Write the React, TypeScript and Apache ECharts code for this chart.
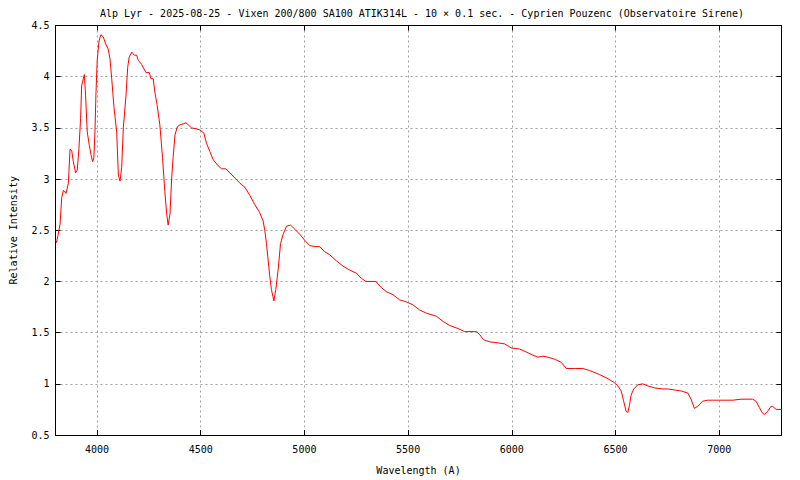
import React, { useEffect, useRef } from "react";
import * as echarts from "echarts";

const titleText =
  "Alp Lyr - 2025-08-25 - Vixen 200/800 SA100 ATIK314L - 10 × 0.1 sec. - Cyprien Pouzenc (Observatoire Sirene)";
const xName = "Wavelength (A)";
const yName = "Relative Intensity";

const xTicks = [4000, 4500, 5000, 5500, 6000, 6500, 7000];

const wavelength = [
  3800, 3805, 3812, 3822, 3830, 3838, 3851, 3862, 3870, 3878, 3886, 3897, 3905, 3913, 3921, 3926,
  3934, 3939, 3945, 3953, 3963, 3971, 3979, 3985, 3990, 3995, 4001, 4010, 4019, 4030, 4042, 4054,
  4063, 4071, 4082, 4095, 4103, 4111, 4119, 4127, 4140, 4148, 4155, 4168, 4180, 4191, 4199, 4215,
  4236, 4252, 4260, 4271, 4279, 4290, 4303, 4316, 4327, 4336, 4343, 4352, 4360, 4367, 4376, 4387,
  4400, 4416, 4429, 4440, 4456, 4480, 4496, 4515, 4528, 4544, 4560, 4584, 4601, 4621, 4641, 4665,
  4689, 4713, 4737, 4761, 4785, 4801, 4809, 4817, 4825, 4833, 4841, 4853, 4862, 4873, 4885, 4897,
  4914, 4933, 4954, 4978, 5002, 5026, 5050, 5074, 5098, 5122, 5155, 5186, 5219, 5251, 5275, 5296,
  5344, 5371, 5395, 5427, 5459, 5492, 5524, 5556, 5588, 5636, 5668, 5700, 5740, 5773, 5829, 5845,
  5864, 5893, 5933, 5965, 5998, 6037, 6070, 6101, 6126, 6150, 6174, 6206, 6238, 6262, 6302, 6342,
  6375, 6423, 6463, 6495, 6511, 6527, 6538, 6551, 6559, 6567, 6575, 6588, 6607, 6631, 6655, 6688,
  6728, 6752, 6784, 6816, 6848, 6864, 6880, 6896, 6920, 6944, 6968, 7000, 7033, 7065, 7105, 7161,
  7177, 7193, 7206, 7217, 7233, 7249, 7257, 7274, 7300,
];

const intensity = [
  2.4, 2.38, 2.45, 2.56, 2.82, 2.89, 2.86, 2.96, 3.29, 3.28, 3.17, 3.06, 3.09, 3.3, 3.59, 3.91,
  3.98, 4.02, 3.82, 3.46, 3.33, 3.24, 3.17, 3.21, 3.45, 3.83, 4.16, 4.35, 4.41, 4.39, 4.32, 4.27,
  4.17, 3.98, 3.7, 3.46, 3.04, 2.98, 3.11, 3.5, 3.82, 4.09, 4.19, 4.24, 4.21, 4.21, 4.16, 4.12,
  4.04, 4.04, 3.98, 3.98, 3.85, 3.72, 3.53, 3.21, 2.88, 2.66, 2.55, 2.66, 3.01, 3.21, 3.43, 3.51,
  3.53, 3.54, 3.55, 3.53, 3.5, 3.49, 3.48, 3.45, 3.35, 3.27, 3.19, 3.13, 3.1, 3.1, 3.06, 3.01,
  2.96, 2.92, 2.84, 2.75, 2.67, 2.59, 2.5, 2.37, 2.21, 2.05, 1.92, 1.81, 1.92, 2.11, 2.37, 2.46,
  2.54, 2.55, 2.51, 2.46, 2.4, 2.35, 2.34, 2.34, 2.29, 2.26, 2.2, 2.15, 2.11, 2.08, 2.03, 2.0,
  2.0, 1.94, 1.9, 1.87, 1.82, 1.8, 1.77, 1.72, 1.69, 1.66, 1.61, 1.57, 1.54, 1.51, 1.51, 1.48,
  1.43, 1.41, 1.4, 1.39, 1.35, 1.34, 1.31, 1.28, 1.26, 1.27, 1.26, 1.24, 1.21, 1.15, 1.15, 1.15,
  1.13, 1.09, 1.05, 1.01, 0.98, 0.93, 0.84, 0.73, 0.72, 0.79, 0.89, 0.95, 0.99, 1.0, 0.98, 0.96,
  0.95, 0.95, 0.94, 0.93, 0.91, 0.85, 0.76, 0.78, 0.83, 0.84, 0.84, 0.84, 0.84, 0.84, 0.85, 0.85,
  0.83, 0.77, 0.72, 0.7, 0.73, 0.78, 0.78, 0.75, 0.75,
];

const FONT = "DejaVu Sans Mono";

export default function App() {
  const ref = useRef<HTMLDivElement>(null);
  useEffect(() => {
    if (!ref.current) return;
    const chart = echarts.init(ref.current, null, { renderer: "svg" });
    const gridDash = { color: "#a0a0a0", width: 1, type: [2, 3] as any };
    const axisLine = { show: true, onZero: false, lineStyle: { color: "#000", width: 1 } };
    const tick = { show: true, inside: true, length: 5, lineStyle: { color: "#000", width: 1 } };
    chart.setOption({
      animation: false,
      backgroundColor: "#fff",
      title: {
        text: titleText,
        left: 417,
        top: 3,
        textAlign: "center",
        textStyle: { fontFamily: FONT, fontSize: 10, fontWeight: "normal", color: "#000" },
      },
      grid: { left: 55.5, right: 18.5, top: 25.5, bottom: 40, containLabel: false },
      xAxis: [
        {
          type: "value",
          min: 3800,
          max: 7300,
          name: xName,
          nameLocation: "middle",
          nameGap: 30,
          nameTextStyle: { fontFamily: FONT, fontSize: 10, color: "#000" },
          axisLine,
          axisTick: { ...tick, customValues: xTicks },
          axisLabel: {
            customValues: xTicks,
            margin: 9,
            fontFamily: FONT,
            fontSize: 10,
            color: "#000",
            formatter: (v: number) => String(v),
          },
          splitLine: { show: true, lineStyle: gridDash },
        },
        {
          type: "value",
          position: "top",
          min: 3800,
          max: 7300,
          axisLine,
          axisTick: { ...tick, customValues: xTicks },
          axisLabel: { show: false, customValues: xTicks },
          splitLine: { show: false },
        },
      ],
      yAxis: [
        {
          type: "value",
          min: 0.5,
          max: 4.5,
          interval: 0.5,
          name: yName,
          nameLocation: "middle",
          nameGap: 37,
          nameTextStyle: { fontFamily: FONT, fontSize: 10, color: "#000" },
          axisLine,
          axisTick: tick,
          axisLabel: { margin: 6, fontFamily: FONT, fontSize: 10, color: "#000" },
          splitLine: { show: true, lineStyle: gridDash },
        },
        {
          type: "value",
          position: "right",
          min: 0.5,
          max: 4.5,
          interval: 0.5,
          axisLine,
          axisTick: tick,
          axisLabel: { show: false },
          splitLine: { show: false },
        },
      ],
      series: [
        {
          type: "line",
          xAxisIndex: 0,
          yAxisIndex: 0,
          data: wavelength.map((w, i) => [w, intensity[i]]),
          showSymbol: false,
          symbol: "none",
          lineStyle: { color: "#ff0000", width: 1 },
          silent: true,
        },
      ],
    });
    return () => chart.dispose();
  }, []);
  return <div ref={ref} style={{ width: 800, height: 480, position: "absolute", left: 0, top: 0 }} />;
}
